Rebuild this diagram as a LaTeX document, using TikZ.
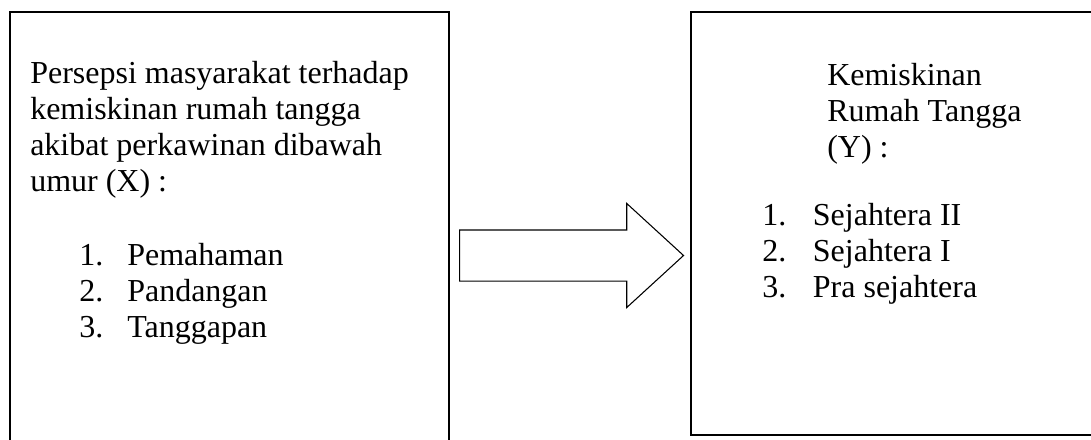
\documentclass[tikz,border=0pt]{standalone}
\usepackage{fontspec}
\setmainfont{Liberation Serif}
\usetikzlibrary{shapes.arrows}

\begin{document}
\begin{tikzpicture}[x=0.75pt,y=-0.75pt,
	txt/.style={font=\fontsize{24pt}{27pt}\selectfont,align=left,inner sep=0pt,anchor=base west}]
	\clip (0,0) rectangle (1091,439);
	\begin{scope}[every node/.style={rectangle,draw,line width=0.8pt,inner sep=0pt}]
	\node (X) at (229.5,236) [minimum width=329.25pt,minimum height=336pt] {};
	\node (Y) at (900.5,223.5) [minimum width=314.25pt,minimum height=317.25pt] {};
	\end{scope}
	\node (arr) at (459,255.5) [single arrow,draw,anchor=tail,line width=0.8pt,minimum height=168pt,minimum width=77.25pt,
		single arrow head extend=19.9pt,single arrow tip angle=85,inner sep=18.75pt] {};
	% base anchor = last line
	\node (Xt) at (30,191) [txt] {Persepsi masyarakat terhadap\\kemiskinan rumah tangga\\akibat perkawinan dibawah\\umur (X) :};
	\node (Xl) at (79,337) [txt] {\makebox[36pt][l]{1.}Pemahaman\\\makebox[36pt][l]{2.}Pandangan\\\makebox[36pt][l]{3.}Tanggapan};
	\node (Yt) at (827,157) [txt] {Kemiskinan\\Rumah Tangga\\(Y) :};
	\node (Yl) at (762,297) [txt] {\makebox[38pt][l]{1.}Sejahtera II\\\makebox[38pt][l]{2.}Sejahtera I\\\makebox[38pt][l]{3.}Pra sejahtera};
\end{tikzpicture}
\end{document}
